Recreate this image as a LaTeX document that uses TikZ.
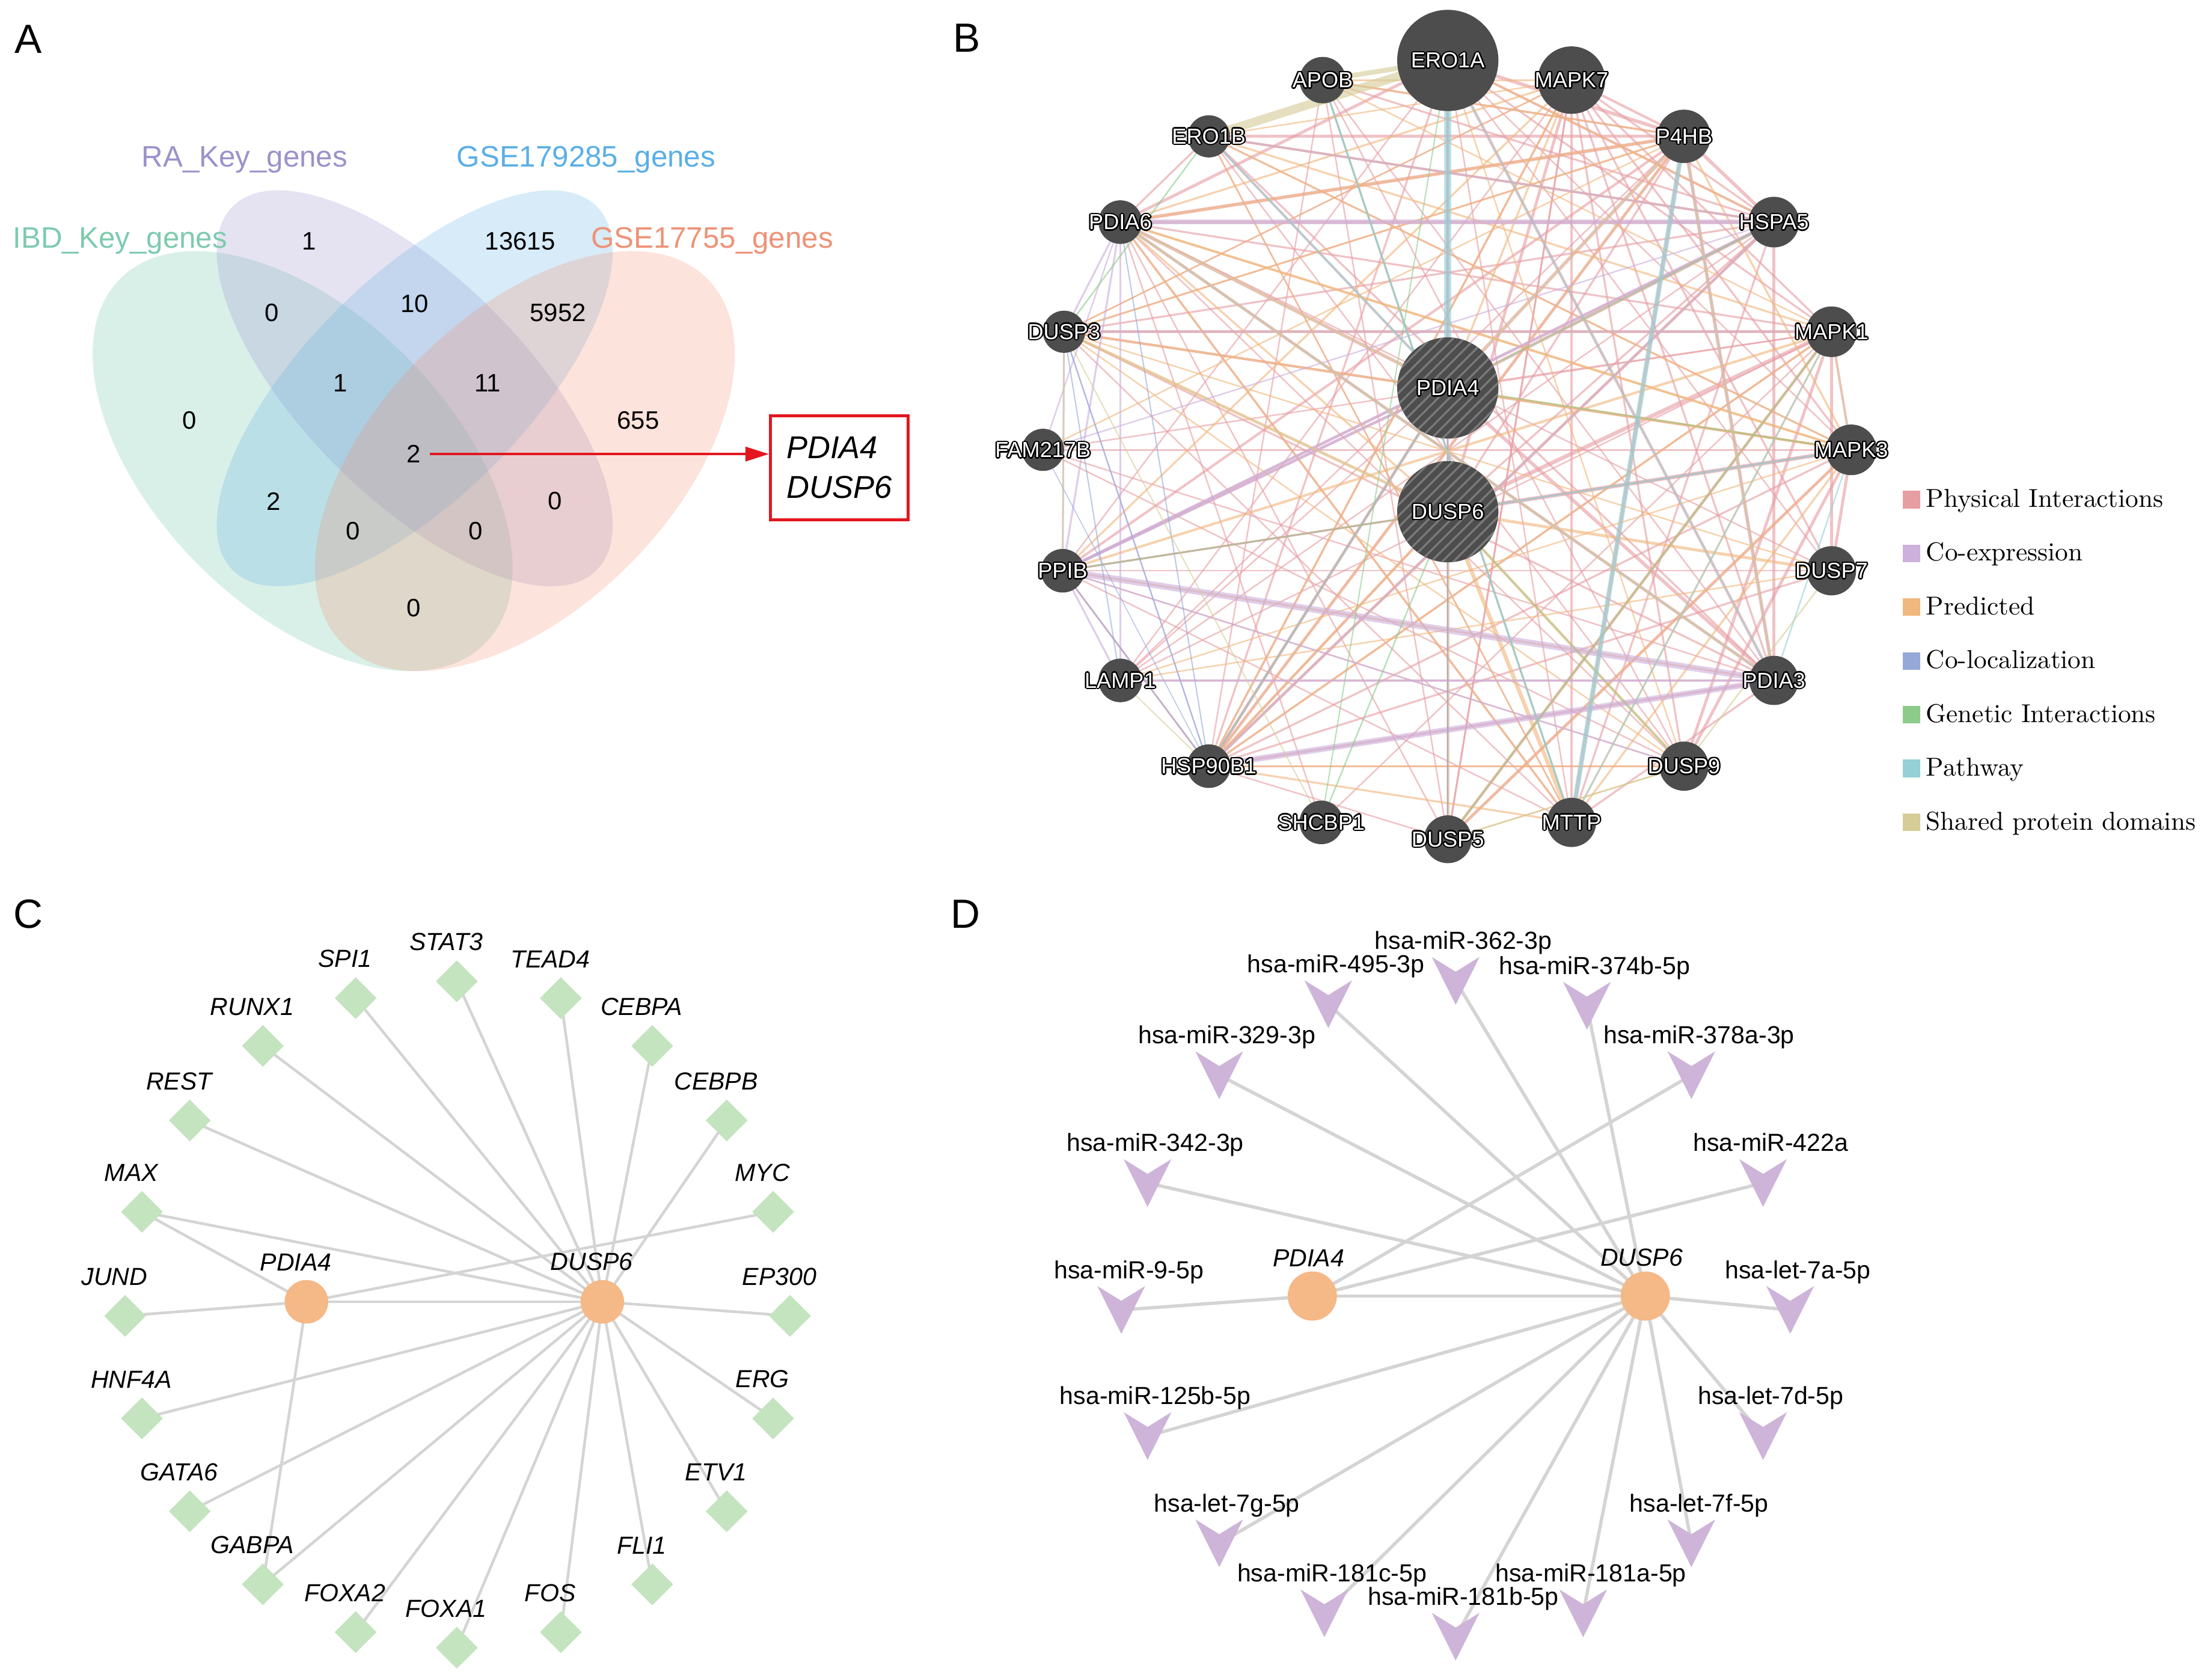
\documentclass[tikz,border=0pt]{standalone}
\usepackage{fontspec}
\newfontfamily\arial{Liberation Sans}
\usepackage{tikz}
\usetikzlibrary{arrows.meta,backgrounds,shapes.geometric,patterns.meta}
\definecolor{ibdc}{HTML}{66C2A5}
\definecolor{rac}{HTML}{9890CC}
\definecolor{gsea}{HTML}{5FAEE3}
\definecolor{gseb}{HTML}{F2906E}
\definecolor{ibdtxt}{HTML}{7DCBAE}
\definecolor{ratxt}{HTML}{9A92CB}
\definecolor{gseatxt}{HTML}{5AAFE6}
\definecolor{gsebtxt}{HTML}{EE9276}
\definecolor{hitred}{HTML}{E3161F}
\definecolor{gnodec}{HTML}{4D4D4D}
\definecolor{hatchc}{HTML}{7A7A7A}
\definecolor{ephys}{HTML}{E69EA3}
\definecolor{ecoexp}{HTML}{CDB0DB}
\definecolor{epred}{HTML}{F0B77E}
\definecolor{ecoloc}{HTML}{94A9D8}
\definecolor{egenet}{HTML}{8DCB8A}
\definecolor{epath}{HTML}{95D0D6}
\definecolor{edomain}{HTML}{D5CC97}
\definecolor{hubc}{HTML}{F5B887}
\definecolor{tfc}{HTML}{C4E3BF}
\definecolor{mirc}{HTML}{CDB4D8}
\definecolor{linkc}{HTML}{D4D4D4}
\newcommand{\hcopy}[3]{\makebox[0pt]{\raisebox{#2}{\hspace{#1}\textcolor{black}{#3}\hspace{-#1}}}}
\newcommand{\halo}[1]{\makebox[0pt]{\hcopy{.6pt}{0pt}{#1}\hcopy{-.6pt}{0pt}{#1}\hcopy{0pt}{.6pt}{#1}\hcopy{0pt}{-.6pt}{#1}%
  \hcopy{.42pt}{.42pt}{#1}\hcopy{-.42pt}{.42pt}{#1}\hcopy{.42pt}{-.42pt}{#1}\hcopy{-.42pt}{-.42pt}{#1}%
  \makebox[0pt]{\textcolor{white}{#1}}}}
\tikzset{
  panel/.style={font=\arial\fontsize{16.5}{18}\selectfont, inner sep=0pt},
  setname/.style={font=\arial\fontsize{12}{14}\selectfont, inner sep=0pt, anchor=base},
  vset/.style={fill opacity=0.25},
  cnt/.style={font=\arial\fontsize{10.2}{12}\selectfont, inner sep=0pt},
  hitbox/.style={draw=hitred, line width=1.1pt, minimum width=1.96cm, minimum height=1.48cm, inner sep=0pt,
                 align=left, font=\arial\itshape\fontsize{12.8}{16}\selectfont},
  hitarr/.style={-{Triangle[length=9.5pt,width=5.8pt]}, draw=hitred, line width=0.85pt},
  gnode/.style={circle, fill=gnodec, inner sep=0pt, font=\arial\fontsize{8.8}{9}\selectfont},
  hubg/.style={gnode, preaction={fill=gnodec}, pattern={Lines[angle=45,distance=3.2pt,line width=0.8pt]}, pattern color=hatchc},
  bedge/.style={line cap=round, draw opacity=0.62},
  phys/.style={bedge, draw=ephys},
  coexp/.style={bedge, draw=ecoexp},
  pred/.style={bedge, draw=epred},
  coloc/.style={bedge, draw=ecoloc},
  genet/.style={bedge, draw=egenet},
  pathw/.style={bedge, draw=epath},
  sharedom/.style={bedge, draw=edomain},
  legsq/.style={minimum size=0.25cm, inner sep=0pt},
  legtxt/.style={anchor=base west, inner sep=0pt, font=\fontsize{10.5}{12}\selectfont},
  tfnode/.style={diamond, fill=tfc, inner sep=0pt, minimum size=0.6cm},
  tflbl/.style={font=\arial\itshape\fontsize{10}{12}\selectfont, inner sep=0pt, xshift=-4.3pt, yshift=3.4pt},
  hubnode/.style={circle, fill=hubc, inner sep=0pt},
  clink/.style={draw=linkc, line width=1.1pt},
  mirnode/.style={inner sep=0pt, minimum size=0.68cm},
  mirlbl/.style={font=\arial\fontsize{10}{12}\selectfont, inner sep=0pt, text depth=2.2pt, xshift=3.1pt, yshift=0.5pt},
  dhublbl/.style={font=\arial\itshape\fontsize{10}{12}\selectfont, inner sep=0pt, xshift=-1.5pt, yshift=1.6pt},
  dlink/.style={draw=linkc, line width=1.35pt},
}
\begin{document}
\begin{tikzpicture}[x=0.02cm, y=-0.02cm]
  \useasboundingbox (0,0) rectangle (1568,1195);
  \node[panel] (pA) at (20,28) {A};
  \node[panel] (pB) at (688,27) {B};
  \node[panel] (pC) at (20,650) {C};
  \node[panel] (pD) at (687,650) {D};

  \fill[ibdc, vset, rotate around={-45:(215.3,328)}] (215.3,328) ellipse [x radius=183.5, y radius=104.6];
  \fill[rac, vset, rotate around={-45:(295,276.2)}] (295,276.2) ellipse [x radius=183, y radius=78.5];
  \fill[gsea, vset, rotate around={45:(295,276.2)}] (295,276.2) ellipse [x radius=183, y radius=78.5];
  \fill[gseb, vset, rotate around={45:(373.4,328)}] (373.4,328) ellipse [x radius=183.5, y radius=104.6];
  \node[setname, text=ratxt] (sRA) at (174,118.5) {RA\_Key\_genes};
  \node[setname, text=gseatxt] (sGa) at (417,118.5) {GSE179285\_genes};
  \node[setname, text=ibdtxt] (sIBD) at (85.5,176.5) {IBD\_Key\_genes};
  \node[setname, text=gsebtxt] (sGb) at (506.6,176.5) {GSE17755\_genes};
  \foreach \x/\y/\v [count=\i] in {220/171.5/1, 370/171.5/13615, 193.5/222.5/0, 295/216/10, 397/222.5/5952,
      242/272.5/1, 347/272.5/11, 135/299/0, 454/299/655, 194.5/356.5/2, 395/356.5/0,
      251/377.5/0, 338.5/377.5/0, 294.5/432.5/0}
    \node[cnt] (v\i) at (\x,\y) {\v};
  \node[cnt] (vall) at (294.5,323) {2};
  \node[hitbox] (genes) at (597,332.7) {PDIA4\\DUSP6};
  \draw[hitarr] ([xshift=3.5pt]vall.east) -- (vall.east -| genes.west);

  \foreach \n/\x/\y/\d in {ERO1A/1030/43/72, MAPK7/1118/57/48, APOB/941/57/33, ERO1B/860/97/30,
      P4HB/1198/97/38, PDIA6/797/158/31, HSPA5/1262/158/36, DUSP3/757/236/30, MAPK1/1303/236/36,
      FAM217B/742/320/30, MAPK3/1317/320/36, PPIB/756/406/31, DUSP7/1303/406/35, LAMP1/797/484/31,
      PDIA3/1262/484/35, HSP90B1/860/545/31, DUSP9/1198/545/35, SHCBP1/940/585/31, MTTP/1118/585/35,
      DUSP5/1030/597/34}
    \node[gnode, minimum size=\d*0.02cm] (\n) at (\x,\y) {\halo{\n}};
  \node[hubg, minimum size=1.44cm] (PDIA4) at (1030,276) {\halo{PDIA4}};
  \node[hubg, minimum size=1.44cm] (DUSP6) at (1030,364) {\halo{DUSP6}};
  \begin{scope}[on background layer]
    \foreach \a/\b/\w in {PDIA4/ERO1A/1.6, PDIA4/P4HB/1.4, PDIA4/HSPA5/1.4, PDIA4/PDIA6/1.4, PDIA4/PDIA3/1.4,
        PDIA4/PPIB/1.0, PDIA4/HSP90B1/1.2, PDIA4/ERO1B/1.0, PDIA4/MAPK1/0.6, PDIA4/LAMP1/0.6, PDIA4/DUSP6/1.0,
        DUSP6/MAPK1/1.6, DUSP6/MAPK3/1.6, DUSP6/MAPK7/1.2, DUSP6/PPIB/0.8, DUSP6/HSP90B1/1.0, DUSP6/P4HB/0.8,
        DUSP6/HSPA5/0.8, DUSP3/MAPK1/1.2, DUSP3/MAPK3/1.0, DUSP3/MAPK7/0.6, DUSP5/MAPK1/1.2, DUSP5/MAPK3/1.2,
        DUSP5/MAPK7/0.6, DUSP7/MAPK1/1.2, DUSP7/MAPK3/1.2, DUSP9/MAPK1/1.2, DUSP9/MAPK3/1.2, DUSP9/MAPK7/0.8,
        MAPK1/MAPK3/1.0, MAPK7/MAPK1/0.8, MAPK7/MAPK3/0.8, P4HB/ERO1A/1.4, P4HB/ERO1B/1.2, P4HB/HSPA5/1.4,
        P4HB/PDIA3/1.4, P4HB/PDIA6/1.4, P4HB/HSP90B1/1.2, P4HB/PPIB/1.0, P4HB/MTTP/1.4, P4HB/DUSP3/0.6,
        P4HB/LAMP1/0.6, P4HB/APOB/0.8, HSPA5/PDIA6/1.4, HSPA5/PDIA3/1.2, HSPA5/HSP90B1/1.2, HSPA5/PPIB/1.0,
        HSPA5/ERO1A/1.0, HSPA5/ERO1B/1.0, HSPA5/DUSP3/0.8, HSPA5/LAMP1/0.6, HSPA5/MTTP/0.8, HSPA5/APOB/0.8,
        PDIA3/ERO1A/1.2, PDIA3/HSP90B1/1.0, PDIA3/PDIA6/1.2, PDIA3/LAMP1/0.8, PDIA3/FAM217B/0.6, PDIA3/MTTP/0.8,
        PDIA3/ERO1B/0.8, PDIA6/ERO1A/1.2, PDIA6/ERO1B/0.8, PDIA6/MAPK1/0.8, PDIA6/DUSP9/0.6, HSP90B1/ERO1A/0.8,
        HSP90B1/PPIB/0.8, HSP90B1/MAPK1/0.8, HSP90B1/MAPK3/0.8, HSP90B1/MAPK7/0.8, PPIB/MAPK3/0.8, PPIB/ERO1A/0.6,
        ERO1A/MTTP/0.6, MTTP/MAPK7/0.8, MTTP/APOB/0.8, MTTP/DUSP3/0.6, APOB/DUSP9/0.6, APOB/PDIA3/0.6,
        LAMP1/MAPK1/0.6, DUSP7/ERO1A/0.6, DUSP5/APOB/0.6, FAM217B/MAPK1/0.6, FAM217B/MAPK3/0.8, DUSP9/ERO1B/0.6,
        SHCBP1/MAPK1/0.6, DUSP7/PDIA6/0.6, MAPK3/ERO1B/0.6, MAPK7/PDIA3/0.8, MAPK7/DUSP7/0.8, MAPK7/DUSP5/0.8,
        ERO1A/MAPK1/0.8, ERO1A/MAPK3/0.6, MAPK7/HSPA5/0.8, MAPK7/P4HB/1.0, APOB/HSP90B1/0.6, ERO1B/MTTP/0.6,
        DUSP3/PDIA3/0.8, PPIB/MTTP/0.6, LAMP1/MAPK7/0.6, FAM217B/DUSP9/0.6, DUSP5/PDIA6/0.6, DUSP9/PPIB/0.6,
        SHCBP1/PDIA6/0.6, MTTP/PDIA6/0.8, DUSP7/HSP90B1/0.8, DUSP7/PPIB/0.6, DUSP5/HSP90B1/0.6, DUSP9/HSP90B1/0.8}
      \draw[phys, line width=\w pt] (\a.center) -- (\b.center);
    \foreach \a/\b/\w in {DUSP6/DUSP7/1.2, DUSP6/DUSP9/1.2, DUSP6/DUSP5/1.2, DUSP6/DUSP3/1.2, DUSP6/MTTP/1.6,
        DUSP6/PDIA6/0.8, DUSP6/HSP90B1/1.0, PDIA4/MAPK3/0.8, PDIA4/MAPK7/0.8, P4HB/PDIA6/1.0, P4HB/DUSP3/0.8,
        P4HB/HSP90B1/0.8, P4HB/MAPK3/0.8, HSPA5/ERO1B/0.8, HSPA5/HSP90B1/0.8, MAPK1/DUSP5/0.8, MAPK1/PPIB/1.0,
        MAPK1/ERO1B/0.8, MAPK3/PDIA6/1.0, MAPK3/DUSP3/1.0, MAPK7/APOB/0.8, MAPK7/PDIA6/0.8, MAPK7/HSP90B1/0.8,
        DUSP9/DUSP3/0.6, DUSP7/DUSP3/0.6, DUSP5/DUSP9/0.6, MTTP/MAPK3/0.8, MTTP/MAPK1/0.8, HSP90B1/MAPK1/0.8,
        ERO1A/DUSP9/0.6, PDIA3/PPIB/0.8, MTTP/HSP90B1/0.8, DUSP3/MAPK7/0.6, APOB/MAPK1/0.6, ERO1B/MAPK7/0.6,
        PDIA6/MAPK3/0.8, FAM217B/P4HB/0.6, LAMP1/MAPK3/0.6, ERO1A/HSPA5/0.8, APOB/P4HB/0.8, ERO1B/MAPK3/0.8,
        PDIA6/MTTP/0.8, DUSP3/MAPK1/0.8, HSP90B1/DUSP9/0.8, LAMP1/DUSP7/0.6, DUSP5/MAPK3/0.8, PPIB/MAPK7/0.8,
        MTTP/ERO1B/0.6}
      \draw[pred, line width=\w pt] (\a.center) -- (\b.center);
    \foreach \a/\b/\w in {PPIB/PDIA3/2.6, HSP90B1/PDIA3/2.4, PDIA6/HSPA5/2.0, PPIB/HSPA5/1.2, PDIA6/PDIA3/1.0,
        LAMP1/PDIA3/1.0, DUSP3/PPIB/0.8, PDIA6/DUSP3/0.8, PPIB/LAMP1/0.8, HSP90B1/DUSP3/0.6, LAMP1/PDIA6/0.6,
        FAM217B/PDIA6/0.6, PDIA6/PPIB/0.8, FAM217B/HSPA5/0.6, PDIA4/PPIB/1.2, PDIA4/HSP90B1/1.0, P4HB/PDIA3/0.8,
        ERO1B/HSPA5/0.8, DUSP3/MAPK1/0.8, HSP90B1/HSPA5/0.8, PPIB/DUSP9/0.6}
      \draw[coexp, line width=\w pt] (\a.center) -- (\b.center);
    \foreach \a/\b/\w in {DUSP3/HSP90B1/0.5, PDIA6/HSP90B1/0.5, PPIB/HSP90B1/0.5, DUSP3/LAMP1/0.5,
        ERO1A/DUSP5/0.5, DUSP6/DUSP5/0.5, FAM217B/HSP90B1/0.4}
      \draw[coloc, line width=\w pt] (\a.center) -- (\b.center);
    \foreach \a/\b/\w in {ERO1B/DUSP3/0.6, SHCBP1/DUSP6/0.6, DUSP5/MAPK1/0.5, HSPA5/PDIA4/0.6, APOB/MTTP/0.5,
        PDIA4/MAPK3/0.5, PPIB/DUSP6/0.5, ERO1A/SHCBP1/0.5, HSP90B1/PDIA4/0.5, DUSP9/DUSP6/0.5}
      \draw[genet, line width=\w pt] (\a.center) -- (\b.center);
    \foreach \a/\b/\w in {ERO1A/PDIA4/3.0, MTTP/P4HB/2.0, APOB/MTTP/0.8, ERO1B/PDIA4/0.8, MAPK3/DUSP6/0.8,
        MAPK1/MTTP/0.6, ERO1A/PDIA3/0.6, MAPK3/PDIA3/0.6}
      \draw[pathw, line width=\w pt] (\a.center) -- (\b.center);
    \foreach \a/\b/\w in {ERO1B/ERO1A/3.5, APOB/ERO1A/2.0, PDIA3/PDIA6/1.0, PDIA4/PDIA6/0.8, P4HB/PDIA3/0.8,
        DUSP3/DUSP6/0.6, DUSP7/DUSP9/0.6, MAPK1/MAPK3/0.6, PPIB/DUSP3/0.6, DUSP3/SHCBP1/0.5, HSP90B1/LAMP1/0.5,
        DUSP5/DUSP9/0.6, PDIA4/P4HB/0.8}
      \draw[sharedom, line width=\w pt] (\a.center) -- (\b.center);
  \end{scope}
  \foreach \c/\t [count=\i] in {ephys/Physical Interactions, ecoexp/Co-expression, epred/Predicted,
      ecoloc/Co-localization, egenet/Genetic Interactions, epath/Pathway, edomain/Shared protein domains} {
    \node[legsq, fill=\c] (lg\i) at (1359.75, {355.4+38.25*(\i-1)}) {};
    \node[legtxt] (lt\i) at (1370, {360.8+38.25*(\i-1)}) {\t};
  }

  \node[hubnode, minimum size=0.62cm, label={[tflbl]above:PDIA4}] (cPDIA4) at (218,926) {};
  \node[hubnode, minimum size=0.62cm, label={[tflbl]above:DUSP6}] (cDUSP6) at (428.5,926) {};
  \foreach \n/\x/\y in {SPI1/253/710, STAT3/325/698, TEAD4/399/710, RUNX1/187/744, CEBPA/464/744,
      REST/135/797, CEBPB/517/797, MAX/101/862, MYC/550/862, JUND/89/936, EP300/562/936, HNF4A/101/1009,
      ERG/550/1009, GATA6/135/1075, ETV1/517/1075, GABPA/187/1127, FLI1/464/1127, FOXA2/253/1161,
      FOXA1/325/1172, FOS/399/1161}
    \node[tfnode, label={[tflbl]above:\n}] (c\n) at (\x,\y) {};
  \begin{scope}[on background layer]
    \foreach \t in {SPI1,STAT3,TEAD4,RUNX1,CEBPA,REST,CEBPB,MAX,EP300,HNF4A,ERG,GATA6,ETV1,GABPA,FLI1,FOXA2,FOXA1,FOS}
      \draw[clink] (cDUSP6.center) -- (c\t.center);
    \foreach \t in {MAX,MYC,JUND,GABPA,DUSP6}
      \draw[clink] (cPDIA4.center) -- (c\t.center);
  \end{scope}

  \node[hubnode, minimum size=0.7cm, label={[dhublbl]above:PDIA4}] (dPDIA4) at (933.6,921.9) {};
  \node[hubnode, minimum size=0.7cm, label={[dhublbl]above:DUSP6}] (dDUSP6) at (1170.5,921.9) {};
  \foreach \n/\x/\y/\t in {m362/1035.6/697.7/hsa-miR-362-3p, m495/945/714.3/hsa-miR-495-3p,
      m374b/1129/715.4/hsa-miR-374b-5p, m329/867.4/764.8/hsa-miR-329-3p, m378a/1203.3/764.8/hsa-miR-378a-3p,
      m342/816.4/841.5/hsa-miR-342-3p, m422a/1254.3/841.5/hsa-miR-422a, m9/797.7/931.8/hsa-miR-9-5p,
      l7a/1273.6/931.8/hsa-let-7a-5p, m125b/816.4/1021.5/hsa-miR-125b-5p, l7d/1254.3/1021.5/hsa-let-7d-5p,
      l7g/867.4/1097.8/hsa-let-7g-5p, l7f/1203.3/1097.8/hsa-let-7f-5p, m181c/942.2/1147.6/hsa-miR-181c-5p,
      m181a/1126.3/1147.6/hsa-miR-181a-5p, m181b/1035.6/1164.2/hsa-miR-181b-5p} {
    \node[mirnode, label={[mirlbl]above:\t}] (\n) at (\x,\y) {};
    \fill[mirc] ([shift={(-17,-17)}]\n.center) -- ([shift={(0,-6.5)}]\n.center)
      -- ([shift={(17,-17)}]\n.center) -- ([shift={(0,17)}]\n.center) -- cycle;
  }
  \begin{scope}[on background layer]
    \foreach \t in {m329,m495,m362,m374b,m342,l7a,l7d,l7f,m181a,m181b,m181c,l7g,m125b}
      \draw[dlink] (dDUSP6.center) -- (\t.center);
    \foreach \t in {m9,m378a,m422a,dDUSP6}
      \draw[dlink] (dPDIA4.center) -- (\t.center);
  \end{scope}
\end{tikzpicture}
\end{document}
